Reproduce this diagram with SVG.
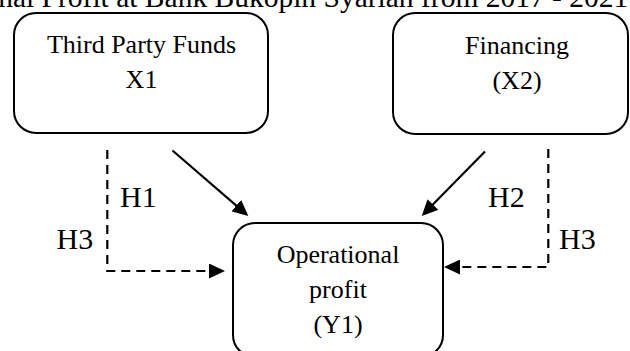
<svg xmlns="http://www.w3.org/2000/svg" width="630" height="351" viewBox="0 0 630 351">
<style>
text{font-family:"Liberation Serif","Times New Roman",serif;fill:#000}
.lbl{font-size:26px;text-anchor:middle}
.h{font-size:30px}
.box{fill:#fff;stroke:#000;stroke-width:2}
.solid{fill:none;stroke:#000;stroke-width:2.2}
.dash{fill:none;stroke:#000;stroke-width:2.2;stroke-dasharray:9 6}
</style>
<defs>
<marker id="ah" markerUnits="userSpaceOnUse" markerWidth="16" markerHeight="15" refX="12" refY="7.5" orient="auto">
<path d="M0,0 L16,7.5 L0,15 z" fill="#000"/>
</marker>
</defs>
<rect width="630" height="351" fill="#fff"/>
<text id="title" x="-105" y="6.5" font-size="29.5">Operational Profit at Bank Bukopin Syariah from 2017 - 2021</text>
<g id="x1">
<rect class="box" x="14" y="13" width="254" height="120" rx="22"/>
<text class="lbl" x="141.5" y="53">Third Party Funds</text>
<text class="lbl" x="141.5" y="88">X1</text>
</g>
<g id="x2">
<rect class="box" x="393" y="13" width="235" height="121" rx="22"/>
<text class="lbl" x="517" y="54">Financing</text>
<text class="lbl" x="517" y="89">(X2)</text>
</g>
<g id="y1">
<rect class="box" x="233" y="223" width="210" height="134" rx="22"/>
<text class="lbl" x="338" y="263">Operational</text>
<text class="lbl" x="338" y="298">profit</text>
<text class="lbl" x="338" y="333">(Y1)</text>
</g>
<g id="connectors">
<path class="solid" d="M172.5,150.5 L245.3,213.4" marker-end="url(#ah)"/>
<path class="solid" d="M485,151.5 L424.5,213.1" marker-end="url(#ah)"/>
<path class="dash" d="M107.3,150 V271 H221" marker-end="url(#ah)"/>
<path class="dash" d="M548.3,149 V267 H448" marker-end="url(#ah)"/>
</g>
<g id="labels">
<text class="h" x="120" y="207">H1</text>
<text class="h" x="56.5" y="248.5">H3</text>
<text class="h" x="488" y="207">H2</text>
<text class="h" x="559" y="248.5">H3</text>
</g>
</svg>
